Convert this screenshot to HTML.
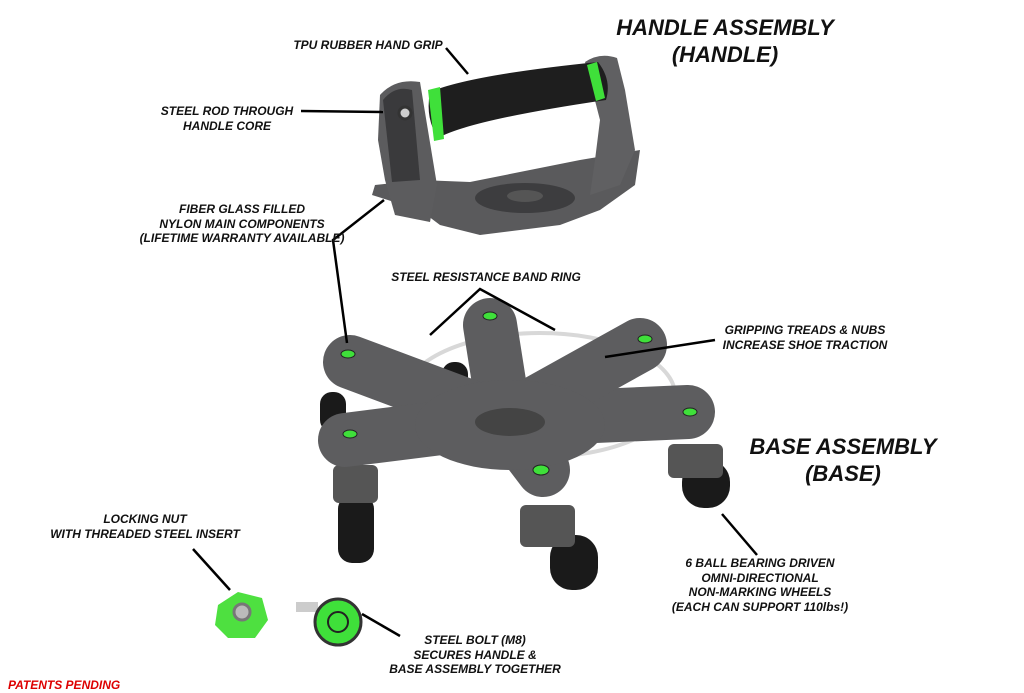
<!DOCTYPE html><html><head><style>
body{margin:0;width:1024px;height:693px;background:#fff;overflow:hidden;position:relative;font-family:"Liberation Sans",sans-serif}
.t{position:absolute;font-weight:bold;font-style:italic;font-size:12px;text-align:center;line-height:14.5px;color:#111;white-space:nowrap;transform:translateX(-50%)}
.h{position:absolute;font-weight:bold;font-style:italic;font-size:22px;text-align:center;line-height:27px;color:#111;transform:translateX(-50%);white-space:nowrap}
</style></head><body>
<svg width="1024" height="693" style="position:absolute;left:0;top:0">
<path d="M375,185 L420,180 L470,182 L580,160 L640,150 L635,185 L600,210 L560,225 L480,235 L440,225 L420,210 L372,195 Z" fill="#5a5a5c"/>
<ellipse cx="525" cy="198" rx="50" ry="15" fill="#3d3d3f"/>
<ellipse cx="525" cy="196" rx="18" ry="6" fill="#555"/>
<path d="M380,95 Q395,78 420,82 L437,185 L430,222 L395,215 L385,180 L378,140 Z" fill="#5c5c5e"/>
<path d="M383,100 Q395,85 412,90 L420,180 L392,182 Z" fill="#3a3a3c"/>
<circle cx="405" cy="113" r="6" fill="#ccc" stroke="#333" stroke-width="3"/>
<path d="M585,62 Q600,52 617,58 L625,90 L635,150 L620,185 L590,195 L595,160 L600,120 Z" fill="#606062"/>
<path d="M430,92 Q470,75 598,62 Q612,80 606,100 Q470,120 438,138 Q425,118 430,92 Z" fill="#1e1e1e"/>
<path d="M428,90 l12,-3 l4,52 l-10,2 Z" fill="#3fe03a"/>
<path d="M587,65 l10,-3 l8,36 l-9,3 Z" fill="#3fe03a"/>
<ellipse cx="540" cy="395" rx="135" ry="62" fill="none" stroke="#d8d8d8" stroke-width="4"/>
<g fill="#1a1a1a">
<rect x="338" y="495" width="36" height="68" rx="14"/>
<rect x="550" y="535" width="48" height="55" rx="22"/>
<rect x="682" y="460" width="48" height="48" rx="22"/>
<rect x="442" y="362" width="26" height="30" rx="12"/>
<rect x="320" y="392" width="26" height="40" rx="12"/>
</g>
<g fill="#555"><rect x="333" y="465" width="45" height="38" rx="6"/><rect x="520" y="505" width="55" height="42" rx="6"/><rect x="668" y="444" width="55" height="34" rx="6"/></g>
<g stroke="#5d5d5f" stroke-width="54" stroke-linecap="round" fill="none">
<line x1="505" y1="420" x2="490" y2="325"/>
<line x1="505" y1="420" x2="350" y2="362"/>
<line x1="505" y1="420" x2="345" y2="440"/>
<line x1="505" y1="420" x2="543" y2="470"/>
<line x1="505" y1="420" x2="688" y2="412"/>
<line x1="505" y1="420" x2="640" y2="345"/>
</g>
<ellipse cx="510" cy="425" rx="95" ry="45" fill="#5d5d5f"/>
<ellipse cx="510" cy="422" rx="35" ry="14" fill="#444"/>
<g fill="#3fe03a" stroke="#222" stroke-width="1"><ellipse cx="490" cy="316" rx="7" ry="4"/><ellipse cx="348" cy="354" rx="7" ry="4"/><ellipse cx="350" cy="434" rx="7" ry="4"/><ellipse cx="541" cy="470" rx="8" ry="5"/><ellipse cx="690" cy="412" rx="7" ry="4"/><ellipse cx="645" cy="339" rx="7" ry="4"/></g>
<path d="M218,605 L238,592 L262,598 L268,620 L255,638 L228,638 L215,625 Z" fill="#4ee040"/>
<circle cx="242" cy="612" r="8" fill="#bbb" stroke="#777" stroke-width="3"/>
<rect x="296" y="602" width="22" height="10" fill="#ccc"/>
<circle cx="338" cy="622" r="23" fill="#3fe03a" stroke="#333" stroke-width="3"/>
<circle cx="338" cy="622" r="10" fill="none" stroke="#222" stroke-width="2"/>
<g stroke="#000" stroke-width="2.5" fill="none">
<line x1="446" y1="48" x2="468" y2="74"/>
<line x1="301" y1="111" x2="383" y2="112"/>
<polyline points="384,200 333,240 347,343"/>
<polyline points="430,335 480,289 555,330"/>
<line x1="715" y1="340" x2="605" y2="357"/>
<line x1="757" y1="555" x2="722" y2="514"/>
<line x1="193" y1="549" x2="230" y2="590"/>
<line x1="400" y1="636" x2="362" y2="614"/>
</g>
</svg>
<div class="h" style="left:725px;top:14px">HANDLE ASSEMBLY<br>(HANDLE)</div>
<div class="h" style="left:843px;top:433px">BASE ASSEMBLY<br>(BASE)</div>
<div class="t" style="left:368px;top:38px">TPU RUBBER HAND GRIP</div>
<div class="t" style="left:227px;top:104px">STEEL ROD THROUGH<br>HANDLE CORE</div>
<div class="t" style="left:242px;top:202px">FIBER GLASS FILLED<br>NYLON MAIN COMPONENTS<br>(LIFETIME WARRANTY AVAILABLE)</div>
<div class="t" style="left:486px;top:270px">STEEL RESISTANCE BAND RING</div>
<div class="t" style="left:805px;top:323px">GRIPPING TREADS &amp; NUBS<br>INCREASE SHOE TRACTION</div>
<div class="t" style="left:145px;top:512px">LOCKING NUT<br>WITH THREADED STEEL INSERT</div>
<div class="t" style="left:760px;top:556px">6 BALL BEARING DRIVEN<br>OMNI-DIRECTIONAL<br>NON-MARKING WHEELS<br>(EACH CAN SUPPORT 110lbs!)</div>
<div class="t" style="left:475px;top:633px">STEEL BOLT (M8)<br>SECURES HANDLE &amp;<br>BASE ASSEMBLY TOGETHER</div>
<div class="t" style="left:8px;top:678px;color:#d00;transform:none">PATENTS PENDING</div>
</body></html>
